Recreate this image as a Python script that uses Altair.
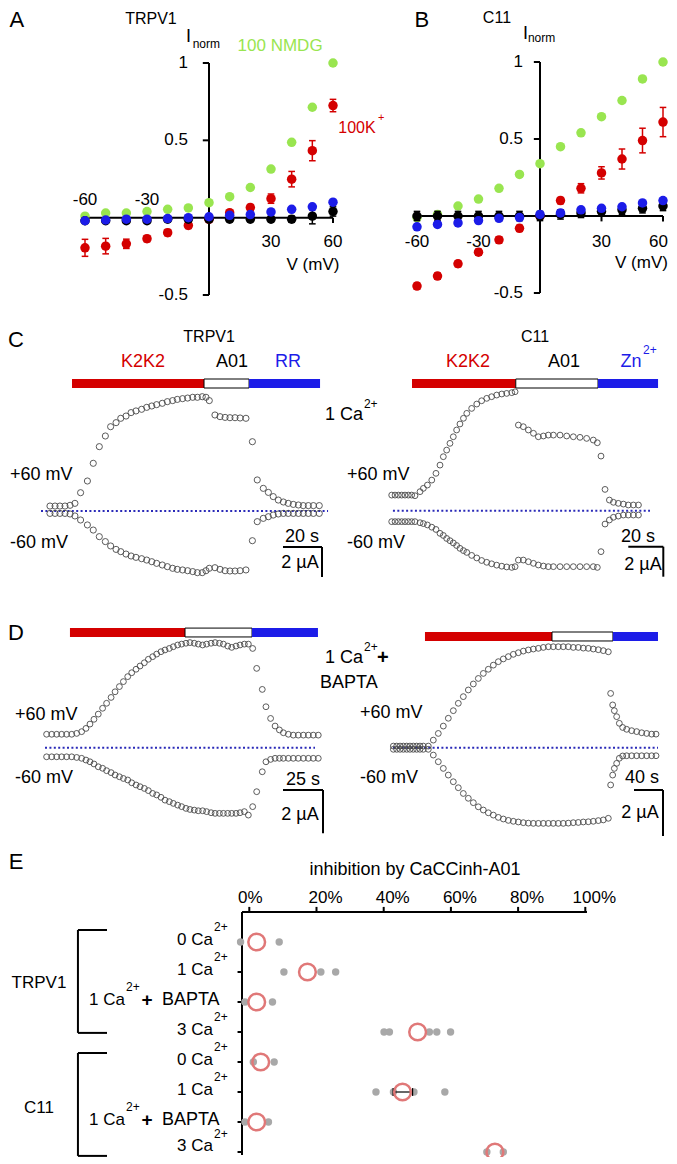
import altair as alt
import pandas as pd

FONT = "Liberation Sans"
GREEN = "#99e550"
RED = "#d40000"
BLUE = "#1c1ce8"
GRAY = "#a8a8a8"
SALMON = "#e07878"
TRACE = "#4a4a4a"
DOTBLUE = "#2a2ab8"

# ---------------- data: panels A / B (I-V curves) ----------------
voltages = [-60, -50, -40, -30, -20, -10, 0, 10, 20, 30, 40, 50, 60]
A_nmdg = [0.01, 0.03, 0.03, 0.04, 0.054, 0.063, 0.097, 0.136, 0.195, 0.314, 0.487, 0.714, 1.0]
A_k = [-0.195, -0.184, -0.169, -0.136, -0.097, -0.05, -0.011, 0.032, 0.065, 0.123, 0.249, 0.433, 0.725]
A_k_err = [0.055, 0.05, 0.03, 0.02, 0.02, 0.02, 0.01, 0.01, 0.02, 0.03, 0.05, 0.065, 0.04]
A_black = [-0.02, -0.02, -0.02, -0.02, -0.01, -0.01, -0.01, -0.01, -0.01, -0.01, -0.01, 0.01, 0.04]
A_black_err = [0.01, 0.01, 0.01, 0.01, 0.01, 0.01, 0.01, 0.01, 0.01, 0.01, 0.02, 0.05, 0.03]
A_blue = [-0.02, -0.015, -0.01, -0.01, -0.006, 0.0, 0.006, 0.015, 0.02, 0.037, 0.054, 0.07, 0.1]

B_nmdg = [-0.01, 0.01, 0.065, 0.11, 0.18, 0.27, 0.34, 0.45, 0.54, 0.645, 0.75, 0.89, 1.0]
B_k = [-0.455, -0.39, -0.31, -0.235, -0.155, -0.08, 0.0, 0.10, 0.18, 0.28, 0.37, 0.49, 0.61]
B_k_err = [0.02, 0.02, 0.02, 0.02, 0.02, 0.02, 0.02, 0.02, 0.03, 0.04, 0.065, 0.08, 0.095]
B_black = [0.0, 0.0, 0.0, 0.0, 0.0, 0.0, 0.0, 0.01, 0.02, 0.03, 0.04, 0.05, 0.065]
B_black_err = [0.03, 0.03, 0.03, 0.03, 0.03, 0.03, 0.03, 0.03, 0.03, 0.03, 0.03, 0.03, 0.03]
B_blue = [-0.07, -0.055, -0.045, -0.03, -0.015, -0.01, 0.01, 0.02, 0.04, 0.05, 0.06, 0.085, 0.10]

iv_yticks = [1, 0.5, -0.5]
iv_ytick_labels = ["1", "0.5", "-0.5"]
iv_xticks = [-60, -30, 30, 60]
iv_xtick_labels = ["-60", "-30", "30", "60"]

# ---------------- data: panel C (time courses, s / µA) ----------------
CL_t = [4.6, 7.2, 9.7, 12.3, 14.9, 17.4, 20.3, 23.8, 26.8, 29.9, 33.0, 35.7, 38.5, 40.9, 43.6, 46.2,
        48.7, 51.6, 54.2, 56.8, 59.3, 62.2, 64.8, 67.5, 69.9, 72.6, 75.2, 77.8, 80.2, 82.7, 84.6, 86.3,
        89.2, 91.8, 94.4, 96.9, 99.5, 102.1, 105.1, 108.4, 110.9, 114.0, 116.6, 119.1, 121.7, 124.3,
        126.8, 129.4, 132.0, 134.5, 137.1, 139.7, 142.7]
CL_pos = [0.33, 0.33, 0.33, 0.33, 0.38, 0.51, 1.22, 2.0, 3.18, 4.29, 5.0, 5.62, 5.89, 6.18, 6.33, 6.56,
          6.67, 6.78, 6.91, 7.0, 7.09, 7.18, 7.29, 7.36, 7.44, 7.49, 7.53, 7.58, 7.58, 7.62, 7.58, 7.36,
          6.4, 6.29, 6.24, 6.22, 6.22, 6.2, 6.18, 4.62, 2.07, 1.51, 1.24, 0.96, 0.73, 0.6, 0.51, 0.44,
          0.4, 0.36, 0.36, 0.36, 0.36]
CL_neg = [-0.16, -0.16, -0.16, -0.16, -0.2, -0.33, -0.6, -0.93, -1.27, -1.71, -2.04, -2.33, -2.56, -2.71,
          -2.87, -3.0, -3.09, -3.18, -3.27, -3.38, -3.49, -3.6, -3.71, -3.82, -3.89, -3.93, -3.98, -4.04,
          -4.11, -4.11, -3.98, -3.82, -3.78, -3.89, -3.98, -4.0, -4.0, -3.98, -3.93, -1.98, -0.71, -0.49,
          -0.38, -0.27, -0.2, -0.16, -0.16, -0.16, -0.16, -0.16, -0.16, -0.16, -0.16]

CR_t = [0, 1.9, 3.8, 5.7, 7.6, 9.5, 11.4, 13.3, 16.2, 18.1, 20.4, 22.9, 25.3, 27.6, 29.5, 31.4, 33.3,
        35.2, 37.1, 39.0, 41.0, 42.9, 45.7, 48.6, 51.4, 54.3, 57.1, 60.0, 62.9, 65.7, 68.6, 70.5,
        72.4, 75.2, 78.1, 81.0, 83.8, 86.7, 89.5, 92.4, 96.2, 100.0, 103.8, 107.6, 111.4, 115.2, 117.5,
        119.6, 121.9, 124.4, 126.7, 129.5, 132.4, 135.2, 138.1, 141.0]
CR_pos = [1.04, 1.04, 1.04, 1.04, 1.04, 1.04, 1.04, 1.0, 1.27, 1.49, 1.71, 2.04, 2.49, 3.04, 3.6, 4.04,
          4.49, 4.93, 5.38, 5.78, 6.16, 6.49, 6.82, 7.11, 7.33, 7.49, 7.6, 7.71, 7.78, 7.82, 7.87, 7.93,
          5.71, 5.6, 5.38, 5.16, 4.93, 4.98, 5.04, 5.04, 5.04, 4.98, 4.93, 4.89, 4.82, 4.71, 4.53,
          3.64, 1.42, 0.71, 0.56, 0.49, 0.44, 0.38, 0.38, 0.38]
CR_neg = [-0.73, -0.73, -0.73, -0.73, -0.73, -0.73, -0.73, -0.73, -0.8, -0.86, -0.95, -1.1, -1.25, -1.51,
          -1.65, -1.85, -2.0, -2.15, -2.32, -2.51, -2.66, -2.78, -2.98, -3.15, -3.32, -3.44, -3.54, -3.63,
          -3.7, -3.75, -3.78, -3.73,
          -3.29, -3.29, -3.4, -3.51, -3.62, -3.69, -3.73, -3.73, -3.73, -3.73, -3.73, -3.73, -3.73, -3.73,
          -3.78,
          -2.73, -0.89, -0.62, -0.44, -0.36, -0.29, -0.29, -0.29, -0.29]

# ---------------- data: panel D ----------------
DL_t = [1.0, 4.2, 7.3, 10.4, 13.5, 16.7, 19.8, 22.9, 25.6, 28.1, 30.6, 33.3, 36.0, 38.5, 41.3, 43.8,
        46.5, 49.0, 51.7, 54.2, 56.9, 59.4, 62.1, 64.6, 67.3, 69.8, 72.5, 75.0, 77.7, 80.2, 82.9, 85.4,
        88.1, 90.6, 93.3, 95.8, 98.5, 101.0, 103.8, 106.3, 109.0, 111.5, 114.2, 116.7, 119.4, 121.9,
        124.6, 127.1, 129.8, 132.3, 135.8, 138.1, 141.0, 143.8, 146.5, 149.0, 152.1, 155.2, 158.3,
        161.5, 164.6, 167.7, 170.8]
DL_pos = [0.62, 0.62, 0.62, 0.62, 0.62, 0.62, 0.66, 0.74, 0.89, 1.09, 1.31, 1.55, 1.82, 2.05, 2.32, 2.58,
          2.82, 3.05, 3.28, 3.46, 3.62, 3.77, 3.92, 4.08, 4.2, 4.32, 4.43, 4.51, 4.58, 4.66, 4.74, 4.78,
          4.82, 4.85, 4.82, 4.78, 4.74, 4.78, 4.82, 4.85, 4.82, 4.78, 4.69, 4.63, 4.69, 4.74, 4.78, 4.78,
          4.58, 3.66, 2.69, 1.89, 1.35, 1.0, 0.82, 0.69, 0.62, 0.58, 0.58, 0.58, 0.58, 0.58, 0.58]
DL_neg = [-0.42, -0.42, -0.42, -0.42, -0.42, -0.42, -0.45, -0.49, -0.57, -0.65, -0.75, -0.88, -0.95,
          -1.06, -1.15, -1.26, -1.34, -1.42, -1.49, -1.62, -1.72, -1.8, -1.88, -1.98, -2.11, -2.18, -2.29,
          -2.42, -2.49, -2.57, -2.65, -2.72, -2.8, -2.85, -2.88, -2.91, -2.91, -2.95, -3.0, -3.03, -3.03,
          -3.03, -3.03, -3.03, -3.03, -3.0, -2.95, -3.11, -2.72, -2.03, -1.11, -0.65, -0.54, -0.49, -0.49,
          -0.49, -0.49, -0.49, -0.49, -0.49, -0.49, -0.49, -0.49]

DR_t = [0.5, 5.1, 9.7, 14.3, 18.9, 23.4, 28.0, 32.6, 37.2, 41.8,
        48.7, 55.6, 62.5, 69.4, 76.3, 83.2, 90.1, 97.0, 103.9, 110.8, 117.7, 124.6, 131.5, 138.4, 145.3,
        152.2, 159.1, 166.0, 172.9, 179.8, 186.7, 193.6, 200.5, 207.4, 214.3, 221.1, 228.0, 234.9,
        241.8, 248.7, 255.6, 262.5, 269.4, 276.3, 283.2, 290.1, 297.0,
        300.2, 303.0, 305.3, 308.5, 312.2, 316.8, 322.3, 329.2, 336.1, 343.0, 349.9, 356.8, 362.8]
DR_pos = [0.07, 0.07, 0.07, 0.07, 0.07, 0.07, 0.07, 0.07, 0.07, 0.07,
          0.07, 0.33, 0.62, 0.94, 1.28, 1.61, 1.93, 2.22, 2.51, 2.77, 3.01, 3.23, 3.41, 3.59, 3.74, 3.86,
          3.96, 4.06, 4.13, 4.2, 4.25, 4.29, 4.32, 4.36, 4.39, 4.39, 4.39, 4.39, 4.39, 4.36, 4.36, 4.33,
          4.32, 4.29, 4.26, 4.22, 4.17,
          2.36, 1.86, 1.61, 1.35, 1.06, 0.88, 0.8, 0.74, 0.7, 0.65, 0.62, 0.59, 0.59]
DR_neg = [-0.07, -0.07, -0.07, -0.07, -0.07, -0.07, -0.07, -0.07, -0.07, -0.07,
          -0.07, -0.32, -0.61, -0.9, -1.19, -1.48, -1.74, -1.99, -2.2, -2.39, -2.57, -2.71, -2.83, -2.93,
          -3.03, -3.1, -3.16, -3.2, -3.23, -3.26, -3.28, -3.29, -3.29, -3.29, -3.29, -3.29, -3.29, -3.29,
          -3.28, -3.26, -3.25, -3.23, -3.22, -3.2, -3.17, -3.14, -3.07,
          -1.62, -1.19, -0.9, -0.68, -0.46, -0.36, -0.35, -0.35, -0.35, -0.35, -0.35, -0.35, -0.35]

# ---------------- data: panel E ----------------
E_groups = ["TRPV1", "C11"]
E_conditions = ["0 Ca", "1 Ca", "1 Ca", "3 Ca", "0 Ca", "1 Ca", "1 Ca", "3 Ca"]
E_bapta = [False, False, True, False, False, False, True, False]
E_points = [[-2.6, 8.9], [10.3, 21.3, 25.7], [-1.3, 6.9], [40.1, 41.7, 53.6, 55.8, 59.9],
            [1.2, 7.4], [37.7, 42.9, 49.0, 58.2], [-1.3, 5.7], [70.7, 75.6]]
E_means = [2.2, 17.3, 2.2, 50.1, 3.4, 45.6, 2.2, 73.1]
E_ticks = [0, 20, 40, 60, 80, 100]
E_tick_labels = ["0%", "20%", "40%", "60%", "80%", "100%"]

# ---------------- helpers ----------------
L = []


class Panel:
    """A region of the figure with its own x / y scales (ranges given in figure pixels)."""

    def __init__(self, xdom, xpx, ydom, ypx):
        self.xs = alt.Scale(domain=xdom, range=[p - 8 for p in xpx], zero=False, nice=False)
        self.ys = alt.Scale(domain=ydom, range=[p - 8 for p in ypx], zero=False, nice=False)

    def xy(self):
        return dict(x=alt.X("x", type="quantitative", scale=self.xs, axis=None),
                    y=alt.Y("y", type="quantitative", scale=self.ys, axis=None))

    def text(self, x, y, s, size=18, color="black", align="center", weight="normal", dx=0):
        df = pd.DataFrame({"x": [x], "y": [y], "s": [s]})
        L.append(alt.Chart(df).mark_text(align=align, baseline="middle", fontSize=size, color=color,
                                         font=FONT, fontWeight=weight, dx=dx)
                 .encode(text="s:N", **self.xy()))

    def segs(self, x1, y1, x2, y2, color="black", width=2, dash=None):
        df = pd.DataFrame({"x": x1, "y": y1, "x2": x2, "y2": y2})
        kw = dict(color=color, strokeWidth=width)
        if dash:
            kw["strokeDash"] = dash
        L.append(alt.Chart(df).mark_rule(**kw).encode(x2="x2:Q", y2="y2:Q", **self.xy()))

    def bar(self, x1, x2, y1, y2, fill, stroke=None):
        df = pd.DataFrame({"x": [x1], "x2": [x2], "y": [y1], "y2": [y2]})
        kw = dict(fill=fill, opacity=1)
        if stroke:
            kw.update(stroke=stroke, strokeWidth=1)
        else:
            kw.update(strokeWidth=0)
        L.append(alt.Chart(df).mark_rect(**kw).encode(x2="x2:Q", y2="y2:Q", **self.xy()))

    def pts(self, xs, ys, filled, color, size, sw=1.0):
        df = pd.DataFrame({"x": xs, "y": ys})
        if filled:
            m = alt.Chart(df).mark_circle(color=color, size=size, opacity=1)
        else:
            m = alt.Chart(df).mark_point(shape="circle", filled=False, color=color, size=size,
                                         strokeWidth=sw, opacity=1)
        L.append(m.encode(**self.xy()))

    def errbars(self, xs, ys, errs, color, cap):
        lo = [y - e for y, e in zip(ys, errs)]
        hi = [y + e for y, e in zip(ys, errs)]
        self.segs(xs, lo, xs, hi, color=color, width=1.5)
        self.segs([x - cap for x in xs], lo, [x + cap for x in xs], lo, color=color, width=1.5)
        self.segs([x - cap for x in xs], hi, [x + cap for x in xs], hi, color=color, width=1.5)


def iv_panel(p, nmdg, k, kerr, black, berr, blue):
    p.segs([0], [-0.5], [0], [1])
    p.segs([-60], [0], [60], [0])
    p.segs([-3.0] * 3, iv_yticks, [0] * 3, iv_yticks)
    p.segs(iv_xticks, [0] * 4, iv_xticks, [-0.035] * 4)
    p.pts(voltages, nmdg, True, GREEN, 90)
    p.errbars(voltages, k, kerr, RED, 1.6)
    p.pts(voltages, k, True, RED, 90)
    p.errbars(voltages, black, berr, "black", 1.6)
    p.pts(voltages, black, True, "black", 90)
    p.pts(voltages, blue, True, BLUE, 90)


# ---------------- panel A ----------------
pA = Panel([-60, 60], [85, 333], [-0.5, 1], [295, 63])
iv_panel(pA, A_nmdg, A_k, A_k_err, A_black, A_black_err, A_blue)
pA.text(-93.0, 1.275, "A", size=22)
pA.text(-28.1, 1.285, "TRPV1", size=16)
pA.text(-9.9, 1.165, "I", size=18)
pA.text(-7.9, 1.125, "norm", size=12, align="left")
pA.text(34.4, 1.113, "100 NMDG", size=17, color=GREEN)
pA.text(71.6, 0.58, "100K", size=16, color=RED)
pA.text(81.8, 0.644, "+", size=11, color=RED, align="left")
for v, s in zip(iv_yticks, iv_ytick_labels):
    pA.text(-10.2, v, s, size=17, align="right")
for v, s in zip(iv_xticks, iv_xtick_labels):
    pA.text(v, 0.114 if v < 0 else -0.157, s, size=17)
pA.text(50.3, -0.306, "V (mV)", size=17)

# ---------------- panel B ----------------
pB = Panel([-60, 60], [417, 663], [-0.5, 1], [293, 62])
iv_panel(pB, B_nmdg, B_k, B_k_err, B_black, B_black_err, B_blue)
pB.text(-57.6, 1.27, "B", size=22)
pB.text(-21.0, 1.285, "C11", size=16)
pB.text(-7.1, 1.18, "I", size=18)
pB.text(-5.9, 1.156, "norm", size=12, align="left")
for v, s in zip(iv_yticks, iv_ytick_labels):
    pB.text(-8.3, v, s, size=17, align="right")
for v, s in zip(iv_xticks, iv_xtick_labels):
    if v == 60:
        pB.text(62.4, -0.169, s, size=17, align="right")
    else:
        pB.text(v, -0.169, s, size=17)
pB.text(62.4, -0.305, "V (mV)", size=17, align="right")


def trace_panel(p, t, pos, neg, dot_from, dot_to, size=38):
    p.segs([dot_from], [0], [dot_to], [0], color=DOTBLUE, width=2, dash=[2, 2.4])
    p.pts(t, pos, False, TRACE, size, 0.9)
    p.pts(t, neg, False, TRACE, size, 0.9)


def drug_bars(p, r0, r1, w1, b1, ylo, yhi):
    p.bar(r0, r1, ylo, yhi, RED)
    p.bar(r1, w1, ylo, yhi, "white", stroke="black")
    p.bar(w1, b1, ylo, yhi, BLUE)


def scalebar(p, x0, x1, y0, y1):
    p.segs([x0], [y0], [x1], [y0])
    p.segs([x1], [y0], [x1], [y1])


# ---------------- panel C left (TRPV1) ----------------
pCL = Panel([0, 150], [41, 333.5], [-6, 10], [601, 361])
drug_bars(pCL, 15.9, 83.6, 106.7, 143.1, 8.2, 8.8)
trace_panel(pCL, CL_t, CL_pos, CL_neg, 0, 147.2)
pCL.text(-12.8, 11.4, "C", size=22)
pCL.text(86.2, 11.6, "TRPV1", size=16)
pCL.text(52.3, 9.93, "K2K2", color=RED)
pCL.text(97.9, 9.93, "A01")
pCL.text(126.7, 9.93, "RR", color=BLUE)
pCL.text(-15.9, 2.4, "+60 mV", align="left")
pCL.text(-15.9, -2.13, "-60 mV", align="left")
pCL.text(133.8, -1.73, "20 s")
scalebar(pCL, 124.1, 144.1, -2.4, -4.4)
pCL.text(132.8, -3.47, "2 µA")
pCL.text(165.1, 6.4, "1 Ca", align="right")
pCL.text(165.6, 7.13, "2+", size=12, align="left")

# ---------------- panel C right (C11) ----------------
pCR = Panel([0, 150], [391.7, 654.2], [-6, 10], [600.7, 360.7])
drug_bars(pCR, 11.6, 70.9, 117.9, 152.2, 8.18, 8.78)
trace_panel(pCR, CR_t, CR_pos, CR_neg, 0.7, 147.6, size=34)
pCR.text(81.9, 11.58, "C11", size=16)
pCR.text(43.6, 9.91, "K2K2", color=RED)
pCR.text(98.5, 9.91, "A01")
pCR.text(136.7, 9.91, "Zn", color=BLUE)
pCR.text(143.6, 10.7, "2+", size=12, color=BLUE, align="left")
pCR.text(-25.5, 2.38, "+60 mV", align="left")
pCR.text(-25.5, -2.15, "-60 mV", align="left")
pCR.text(140.7, -1.75, "20 s")
scalebar(pCR, 135.2, 155.2, -2.4, -4.4)
pCR.text(143.6, -3.62, "2 µA")

# ---------------- panel D left ----------------
pDL = Panel([0, 180], [45, 333], [-5, 5], [856.05, 639.35])
drug_bars(pDL, 15.6, 87.5, 129.4, 170.6, 5.11, 5.52)
trace_panel(pDL, DL_t, DL_pos, DL_neg, 0, 168.75, size=34)
pDL.text(-18.1, 5.3, "D", size=22)
pDL.text(-18.75, 1.51, "+60 mV", align="left")
pDL.text(-18.75, -1.4, "-60 mV", align="left")
pDL.text(161.25, -1.49, "25 s")
scalebar(pDL, 148.75, 173.75, -1.95, -3.95)
pDL.text(159.4, -3.11, "2 µA")
pDL.text(198.75, 4.14, "1 Ca", align="right")
pDL.text(199.4, 4.65, "2+", size=12, align="left")
pDL.text(207.5, 4.14, "+", size=20, align="left", weight="bold")
pDL.text(171.9, 2.99, "BAPTA", align="left")

# ---------------- panel D right ----------------
pDR = Panel([0, 370], [393, 661.25], [-5, 5], [862.7, 632.7])
drug_bars(pDR, 44.1, 219.3, 303.4, 365.5, 4.64, 5.03)
trace_panel(pDR, DR_t, DR_pos, DR_neg, 0, 365.5, size=34)
pDR.text(-45.5, 1.51, "+60 mV", align="left")
pDR.text(-45.5, -1.32, "-60 mV", align="left")
pDR.text(343.4, -1.32, "40 s")
scalebar(pDR, 332.4, 372.4, -1.84, -3.84)
pDR.text(340.7, -2.84, "2 µA")

# ---------------- panel E ----------------
pE = Panel([0, 100], [249.3, 585.3], [1, 8], [942, 1152])
rows = list(range(1, len(E_conditions) + 1))
pE.segs([-2.17], [0], [100.5], [0])
pE.segs([-2.17], [0], [-2.17], [8.1])
pE.segs(E_ticks, [0] * len(E_ticks), E_ticks, [-0.17] * len(E_ticks))
pE.segs([-3.5] * len(rows), rows, [-2.17] * len(rows), rows)
for v, s in zip(E_ticks, E_tick_labels):
    pE.text(v, -0.47, s, size=17, dx=1 if v == 0 else 9)
pE.text(-69.4, -1.67, "E", size=22)
pE.text(49.3, -1.4, "inhibition by CaCCinh-A01", size=18)
gx, gy = [], []
for r, vals in zip(rows, E_points):
    gx += vals
    gy += [r] * len(vals)
pE.pts(gx, gy, True, GRAY, 55)
pE.segs([42.8], [6], [48.6], [6], width=1.2)
pE.segs([42.8, 48.6], [5.87, 5.87], [42.8, 48.6], [6.13, 6.13], width=1.2)
pE.pts(E_means, rows, False, SALMON, 280, 2.5)
for r, cond, bap in zip(rows, E_conditions, E_bapta):
    ly = r - (0.2 if r == rows[-1] else 0.08)
    if bap:
        pE.text(-37.0, ly, cond, size=17, align="right")
        pE.text(-36.7, ly - 0.41, "2+", size=12, align="left")
        pE.text(-30.4, ly, "+", size=19, weight="bold")
        pE.text(-26.0, ly, "BAPTA", size=18, align="left")
    else:
        pE.text(-10.8, ly, cond, size=17, align="right")
        pE.text(-10.5, ly - 0.41, "2+", size=12, align="left")
# group brackets
for g, (top, bot, lab_row) in zip(E_groups, [(0.6, 4.03, 2.37), (4.7, 8.13, 6.53)]):
    pE.segs([-51.0], [top], [-51.0], [bot])
    pE.segs([-51.0, -51.0], [top, bot], [-42.35, -42.35], [top, bot])
    pE.text(-62.6, lab_row, g, size=17)

chart = (
    alt.layer(*L)
    .resolve_scale(x="independent", y="independent")
    .properties(width=661, height=1149, padding=0, autosize=alt.AutoSizeParams(type="none"))
    .configure_view(stroke=None)
)
chart.save("out.html", embed_options={"renderer": "svg", "actions": False})
